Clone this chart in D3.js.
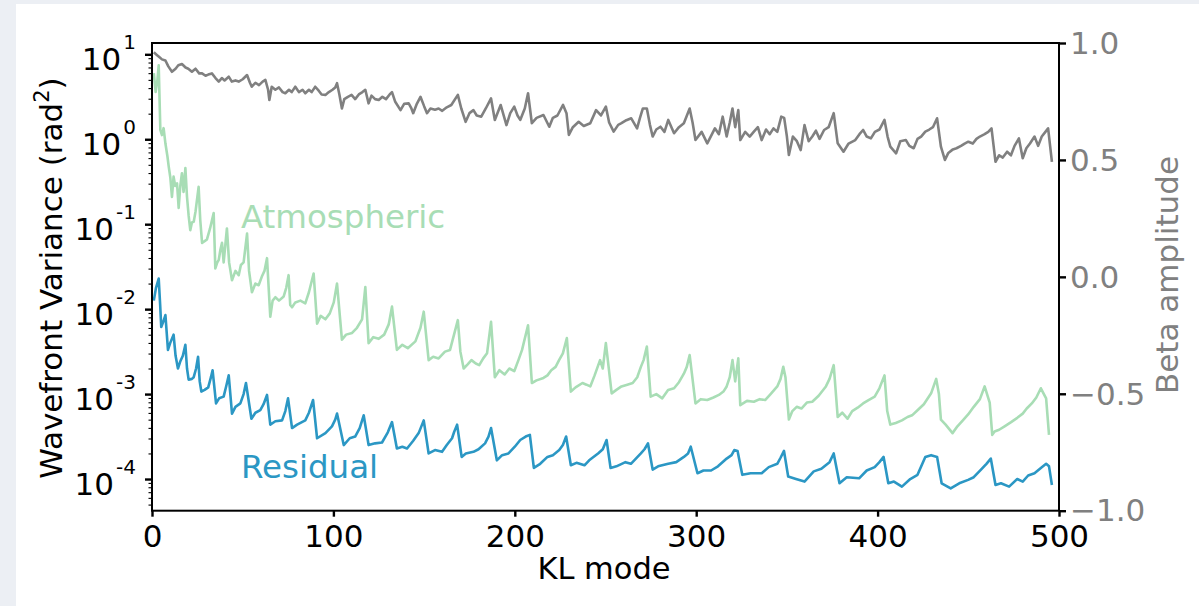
<!DOCTYPE html>
<html>
<head>
<meta charset="utf-8">
<script src="https://cdn.jsdelivr.net/npm/d3@7"></script>
<style>
  html, body { margin: 0; padding: 0; background: #eceff4; }
  svg { display: block; }
  text { font-family: "DejaVu Sans", sans-serif; }
</style>
</head>
<body>
<svg id="chart" width="1199" height="606"></svg>
<script>
// ---------- DATA ----------
const xTicks = [0, 100, 200, 300, 400, 500];
const yLogTicks = [1e-4, 1e-3, 1e-2, 1e-1, 1e0, 1e1];
const yLogExponents = ["-4", "-3", "-2", "-1", "0", "1"];
const betaTicks = [-1, -0.5, 0, 0.5, 1];

const betaModes = [1,2.5,4,5.5,7.4,9,11,13,14.5,16.5,18.5,20,22,24,26,27.6,29.5,31,33,35,36.8,38.5,40,42.3,44,46,47.8,50,52.4,54,55,57,59,61,62.5,64,64.7,66,68,70,72,73.5,75.5,77,79,81,83,84.5,86.5,88,90,92,93.5,95.6,97.5,99.5,101,102,103.3,104.7,106,108,110,112,114,116,117.6,119.4,121,123,125,127,129,131,132.3,134,137,139,141.5,143,144,146,148,150,151.6,153.5,156,158,160,162.5,165,168.6,170.5,172.9,175,177.2,179,181.5,184,186.9,189,192.2,195.4,197.5,199.7,201.5,203,205.5,207.3,209.4,212,215.8,219,221,223.5,226.6,228.5,229.8,232,235.2,238,241.6,244.8,247.5,250.2,252,254.5,257,258.8,261.5,264.2,267.4,269,270.6,272.8,274.5,276,278,280.3,282.5,284.6,287.8,290.5,293.2,296.4,298,299.6,303,306.1,308,310.3,312.5,314.6,316.8,318.5,320,321.5,323.2,324.3,327,329.5,331.8,334,336.1,338.5,340.5,342.6,344.7,346.9,348.5,350,351.1,353.3,355.5,357.6,359.7,362,364,366,368,370.5,373,375.8,378,381.2,384,387.7,390,392,394,396.3,398.5,401,403.8,405.5,407,410.2,412.5,415.6,417.5,419.9,422,424,426.3,428.5,430.5,432.8,434.9,437.1,439,441.5,443.5,446,448,450,452.5,454.5,456.4,459,461,462.8,465,467,469,471.4,473.5,475.5,477.9,480,482,484,486.5,488.5,490.5,492.5,494,496.1];
const betaAmplitude = [0.96,0.95,0.94,0.93,0.925,0.90,0.877,0.89,0.905,0.91,0.895,0.89,0.877,0.89,0.87,0.87,0.86,0.865,0.87,0.85,0.835,0.85,0.84,0.856,0.835,0.84,0.835,0.845,0.863,0.83,0.813,0.83,0.82,0.835,0.842,0.80,0.756,0.813,0.80,0.81,0.79,0.785,0.80,0.79,0.813,0.79,0.80,0.785,0.80,0.79,0.813,0.795,0.78,0.778,0.79,0.80,0.81,0.828,0.78,0.72,0.76,0.77,0.778,0.76,0.78,0.79,0.80,0.742,0.775,0.76,0.756,0.77,0.76,0.78,0.79,0.75,0.713,0.74,0.742,0.72,0.70,0.74,0.77,0.73,0.70,0.72,0.715,0.72,0.71,0.725,0.735,0.778,0.72,0.663,0.70,0.713,0.69,0.685,0.72,0.763,0.671,0.735,0.649,0.70,0.728,0.69,0.671,0.72,0.785,0.657,0.68,0.692,0.642,0.68,0.69,0.735,0.70,0.607,0.64,0.663,0.645,0.657,0.713,0.69,0.728,0.66,0.621,0.65,0.657,0.67,0.678,0.635,0.68,0.72,0.72,0.65,0.60,0.63,0.642,0.62,0.671,0.614,0.64,0.657,0.72,0.66,0.585,0.62,0.571,0.60,0.635,0.61,0.685,0.60,0.66,0.72,0.64,0.713,0.585,0.62,0.60,0.621,0.64,0.585,0.63,0.61,0.635,0.62,0.685,0.68,0.60,0.521,0.60,0.58,0.542,0.649,0.58,0.60,0.625,0.59,0.628,0.64,0.70,0.571,0.535,0.57,0.585,0.61,0.628,0.60,0.592,0.62,0.63,0.671,0.60,0.557,0.528,0.58,0.585,0.56,0.55,0.59,0.60,0.621,0.63,0.64,0.678,0.557,0.50,0.53,0.545,0.55,0.56,0.57,0.578,0.57,0.59,0.60,0.61,0.62,0.635,0.492,0.52,0.51,0.535,0.52,0.56,0.592,0.507,0.55,0.57,0.60,0.56,0.60,0.62,0.635,0.492];

const atmModes = [1,2,3,3.7,4.6,5.5,6.4,7.4,8.5,9.2,10.1,11,11.9,12.8,13.8,14.7,15.6,16.5,17.4,18.4,19.3,20.2,21.1,22,23,24,25.7,26.6,27.6,29,30.3,32,34,34.9,36,36.8,37.7,38.6,39.5,40.4,41.3,42.5,44.1,46,47.8,49,50.5,52.4,53.5,55.1,57,58.8,60.5,62,63.4,65.2,66.5,68,70,72.6,74,75.3,76.2,77.2,79,81.8,84.5,86.5,89.1,91,93,95.6,98,100.2,102,104.7,107,110.3,113,115.8,117.6,119.4,122,125,128,130.5,132.3,135,138,141,145.2,148,149.8,152.5,155,158,161.5,164.3,166.5,168.6,170,171.8,174,176.1,178.5,180.4,182.6,184.7,186.9,189,191.5,194.4,197,199.7,202,204,207.3,209.4,212,215.8,218,220.1,222.5,224.4,226.5,228.7,230.9,233.5,237.3,239.5,241.6,244,247,248.5,250.2,253.4,256,258.8,262,265,267.5,269.5,271,272.8,274.9,278,281.3,284.5,287.8,290.5,293.2,294.8,296.4,299.6,302.5,306.1,309.5,312.5,315,316.8,318.5,320,321.5,323.2,324.3,328,331.8,335,338,341,344.7,346.5,348,349.2,351.1,353,355.4,358,361,364,367.5,371.5,373.5,375.8,378,380.5,383.4,386,389,392,395,398.4,401,403.8,405.3,407,410,413.4,416.5,419,422,425.5,429.5,432.3,433.8,434.9,437.5,441.3,444,447,449.9,453,456.4,459,461.8,463.2,464.5,467,470,473.6,477,480,482.2,485,487.5,490,492.9,494.5,496.1];
const atmVariance = [6.0,3.6,5.0,7.4,1.29,1.12,1.35,0.89,0.63,0.48,0.355,0.209,0.363,0.282,0.302,0.155,0.282,0.398,0.240,0.457,0.209,0.126,0.0851,0.105,0.107,0.141,0.275,0.112,0.0603,0.0631,0.0661,0.0891,0.135,0.0302,0.0355,0.0380,0.0501,0.0603,0.0355,0.0562,0.0891,0.0355,0.0219,0.0282,0.0251,0.0331,0.0355,0.0776,0.0282,0.0158,0.0200,0.0191,0.0240,0.0282,0.0398,0.00813,0.0126,0.0138,0.0126,0.0141,0.0178,0.0251,0.0112,0.0105,0.0120,0.0126,0.0117,0.0158,0.0263,0.00676,0.00832,0.00759,0.00891,0.0120,0.0200,0.00437,0.00501,0.00525,0.00603,0.00759,0.0182,0.00398,0.00468,0.00447,0.00501,0.00661,0.0107,0.00331,0.00380,0.00347,0.00417,0.00603,0.00933,0.00251,0.00275,0.00263,0.00316,0.00331,0.00501,0.00741,0.00316,0.00200,0.00224,0.00251,0.00229,0.00219,0.00263,0.00302,0.00708,0.00158,0.00191,0.00170,0.00200,0.00186,0.00251,0.00331,0.00646,0.00135,0.00145,0.00155,0.00166,0.00191,0.00209,0.00251,0.00302,0.00457,0.00107,0.00120,0.00135,0.00129,0.00123,0.00166,0.00251,0.00200,0.00398,0.00102,0.00112,0.00123,0.00129,0.00135,0.00158,0.00209,0.00251,0.00363,0.000933,0.00100,0.000891,0.00112,0.00117,0.00138,0.00174,0.00209,0.00288,0.000776,0.000871,0.000851,0.000912,0.000977,0.00107,0.00123,0.00158,0.00251,0.00141,0.00263,0.000741,0.000832,0.000813,0.000871,0.000851,0.00100,0.00123,0.00151,0.00209,0.00158,0.000501,0.000631,0.000708,0.000676,0.000794,0.000813,0.000955,0.00123,0.00151,0.00219,0.000537,0.000603,0.000513,0.000631,0.000692,0.000776,0.000851,0.000933,0.00117,0.00166,0.000631,0.000437,0.000457,0.000490,0.000537,0.000562,0.000646,0.000759,0.00102,0.00151,0.00100,0.000501,0.000437,0.000347,0.000417,0.000490,0.000575,0.000708,0.000871,0.00123,0.000794,0.000331,0.000363,0.000380,0.000417,0.000468,0.000525,0.000589,0.000676,0.000776,0.000912,0.00117,0.000891,0.000331];

const resModes = [1,2.2,3.7,4.5,5.1,6.2,7.4,8.8,10,11.9,13,14.3,15.5,17,18.4,19.3,20.2,22,23,24.3,25.4,26.3,27.2,29,31,32.5,33.4,35.3,37,39.5,41,42.3,44.1,46,48.7,50.5,51.8,54.8,57,59.7,61.5,63.4,65.2,68,71.7,73.5,75,77.2,80,84.5,86.5,88.8,91,95.6,99.2,101,102,105.7,109,112,114.5,116.7,119.4,123,126.8,130,132.3,135,138,140.6,144,147,149.8,152.5,156,159.9,162.5,165.4,166.5,168.2,170.7,173,177.2,180,183.6,185.5,186.9,190.1,193,196.5,200,203,206,208.3,210.5,214,218,221,224.5,226.5,228.3,230.9,234,238.4,241,245.9,248.5,250.6,252.8,256,261,264,269.5,271.5,273.4,276,279,284.6,289,293.2,295.5,297,300.7,304,308.2,312,316.8,319.5,321,322.8,325.4,330,336.1,340,344.7,346.5,348.4,350.7,355,359.7,364.8,369,373.5,375.8,379,383,389.8,394,398.4,401,403.3,405.9,409,413.4,418,422,426.3,429.5,432.8,435.3,440.3,445,449.9,453,457,460,462.4,465,468,472.5,477,480,483,486.5,490,492.9,494.5,496.1];
const resVariance = [0.0126,0.0178,0.0229,0.0112,0.00617,0.00708,0.00851,0.00331,0.00398,0.00501,0.00282,0.00200,0.00240,0.00282,0.00380,0.00200,0.00148,0.00151,0.00158,0.00200,0.00275,0.00141,0.00107,0.00112,0.00120,0.00158,0.00191,0.000776,0.000891,0.000933,0.00126,0.00166,0.000589,0.000708,0.000776,0.00100,0.00135,0.000513,0.000603,0.000646,0.000759,0.000977,0.000437,0.000479,0.000490,0.000631,0.000891,0.000398,0.000437,0.000490,0.000603,0.000851,0.000302,0.000347,0.000417,0.000501,0.000589,0.000251,0.000302,0.000316,0.000398,0.000562,0.000251,0.000263,0.000269,0.000355,0.000468,0.000229,0.000240,0.000229,0.000282,0.000347,0.000490,0.000200,0.000219,0.000209,0.000251,0.000302,0.000355,0.000437,0.000182,0.000200,0.000209,0.000224,0.000263,0.000316,0.000398,0.000166,0.000191,0.000200,0.000240,0.000288,0.000316,0.000331,0.000135,0.000151,0.000182,0.000191,0.000219,0.000251,0.000316,0.000145,0.000155,0.000145,0.000166,0.000200,0.000224,0.000288,0.000135,0.000141,0.000158,0.000151,0.000200,0.000224,0.000263,0.000129,0.000141,0.000151,0.000158,0.000182,0.000200,0.000240,0.000117,0.000126,0.000126,0.000141,0.000174,0.000191,0.000219,0.000214,0.000112,0.000117,0.000117,0.000138,0.000151,0.000178,0.000214,0.000107,0.000100,0.0000933,0.000123,0.000132,0.000158,0.000200,0.0000891,0.000105,0.000102,0.000126,0.000138,0.000158,0.000182,0.0000891,0.0000933,0.0000813,0.000100,0.000112,0.000182,0.000191,0.000182,0.0000891,0.0000776,0.0000891,0.0000977,0.000105,0.000129,0.000151,0.000174,0.0000851,0.0000891,0.0000813,0.000100,0.0000933,0.000110,0.000117,0.000135,0.000151,0.000141,0.0000851];

const atmLabel = { text: "Atmospheric", mode: 49, value: 0.09 };
const resLabel = { text: "Residual", mode: 49, value: 1.02e-4 };

// ---------- LAYOUT ----------
const W = 1199, H = 606;
const m = { left: 152, top: 43, right: 1059, bottom: 510.7 };
const FS = 31;

const svg = d3.select("#chart");
svg.append("rect").attr("x", 0).attr("y", 0).attr("width", W).attr("height", H).attr("fill", "#eceff4");
svg.append("rect").attr("x", 16).attr("y", 4).attr("width", W - 16).attr("height", H - 4).attr("fill", "#ffffff");

const x = d3.scaleLinear().domain([0, 500]).range([m.left, m.right]);
const y = d3.scaleLog().domain([Math.pow(10, -4.373), Math.pow(10, 1.133)]).range([m.bottom, m.top]);
const yb = d3.scaleLinear().domain([-1, 1]).range([m.bottom, m.top]);

const colGray = "#808080", colAtm = "#a8ddb5", colRes = "#2b97c4";

// ---------- LINES ----------
const lineLog = d3.line().x(d => x(d[0])).y(d => y(d[1]));
const lineLin = d3.line().x(d => x(d[0])).y(d => yb(d[1]));

svg.append("path").datum(betaModes.map((d, i) => [d, betaAmplitude[i]]))
  .attr("d", lineLin).attr("fill", "none").attr("stroke", colGray)
  .attr("stroke-width", 2.6).attr("stroke-linejoin", "round");
svg.append("path").datum(atmModes.map((d, i) => [d, atmVariance[i]]))
  .attr("d", lineLog).attr("fill", "none").attr("stroke", colAtm)
  .attr("stroke-width", 2.6).attr("stroke-linejoin", "round");
svg.append("path").datum(resModes.map((d, i) => [d, resVariance[i]]))
  .attr("d", lineLog).attr("fill", "none").attr("stroke", colRes)
  .attr("stroke-width", 2.6).attr("stroke-linejoin", "round");

// ---------- ANNOTATIONS ----------
svg.append("text").attr("x", x(atmLabel.mode)).attr("y", y(atmLabel.value))
  .attr("font-size", 32.5).attr("fill", colAtm).text(atmLabel.text);
svg.append("text").attr("x", x(resLabel.mode)).attr("y", y(resLabel.value))
  .attr("font-size", 32.5).attr("fill", colRes).text(resLabel.text);

// ---------- AXES ----------
// bottom
const gx = svg.append("g").attr("transform", `translate(0,${m.bottom})`)
  .call(d3.axisBottom(x).tickValues(xTicks).tickSize(6).tickPadding(8).tickFormat(d3.format("d")));
gx.select(".domain").remove();
gx.selectAll(".tick line").attr("stroke", "#000").attr("stroke-width", 2.4);
gx.selectAll(".tick text").attr("font-size", FS).attr("font-family", "DejaVu Sans").attr("fill", "#000");

// left log axis: minor ticks
const minorVals = y.ticks().filter(v => {
  const l = Math.log10(v);
  return Math.abs(l - Math.round(l)) > 1e-6;
});
const gyMinor = svg.append("g").attr("transform", `translate(${m.left},0)`)
  .call(d3.axisLeft(y).tickValues(minorVals).tickSize(3.5).tickFormat(""));
gyMinor.select(".domain").remove();
gyMinor.selectAll(".tick line").attr("stroke", "#000").attr("stroke-width", 1.1);

const gy = svg.append("g").attr("transform", `translate(${m.left},0)`)
  .call(d3.axisLeft(y).tickValues(yLogTicks).tickSize(7).tickFormat(""));
gy.select(".domain").remove();
gy.selectAll(".tick line").attr("stroke", "#000").attr("stroke-width", 2.4);

const yLab = svg.append("g");
yLogTicks.forEach((v, i) => {
  const t = yLab.append("text").attr("x", 136).attr("y", y(v) + 16)
    .attr("text-anchor", "end").attr("font-size", FS).attr("fill", "#000");
  t.append("tspan").text("10");
  t.append("tspan").attr("font-size", 20).attr("dy", -21).attr("dx", 2).text(yLogExponents[i]);
});

// right axis (beta)
const gr = svg.append("g").attr("transform", `translate(${m.right},0)`)
  .call(d3.axisRight(yb).tickValues(betaTicks).tickSize(7).tickPadding(4).tickFormat(d3.format(".1f")));
gr.select(".domain").remove();
gr.selectAll(".tick line").attr("stroke", "#000").attr("stroke-width", 2.4);
gr.selectAll(".tick text").attr("font-size", FS).attr("font-family", "DejaVu Sans").attr("fill", colGray)
  .attr("dy", "0.33em");

// spines
svg.append("rect").attr("x", m.left).attr("y", m.top)
  .attr("width", m.right - m.left).attr("height", m.bottom - m.top)
  .attr("fill", "none").attr("stroke", "#000").attr("stroke-width", 2);

// ---------- AXIS TITLES ----------
svg.append("text").attr("x", 604).attr("y", 579).attr("text-anchor", "middle")
  .attr("font-size", 30.5).attr("fill", "#000").text("KL mode");

const yt = svg.append("text").attr("transform", "translate(61.5,278) rotate(-90)")
  .attr("text-anchor", "middle").attr("font-size", 31).attr("fill", "#000");
yt.append("tspan").text("Wavefront Variance (rad");
yt.append("tspan").attr("font-size", 21).attr("dy", -13).text("2");
yt.append("tspan").attr("dy", 13).text(")");

svg.append("text").attr("transform", "translate(1177.5,275) rotate(-90)")
  .attr("text-anchor", "middle").attr("font-size", 31).attr("fill", colGray).text("Beta amplitude");
</script>
</body>
</html>
